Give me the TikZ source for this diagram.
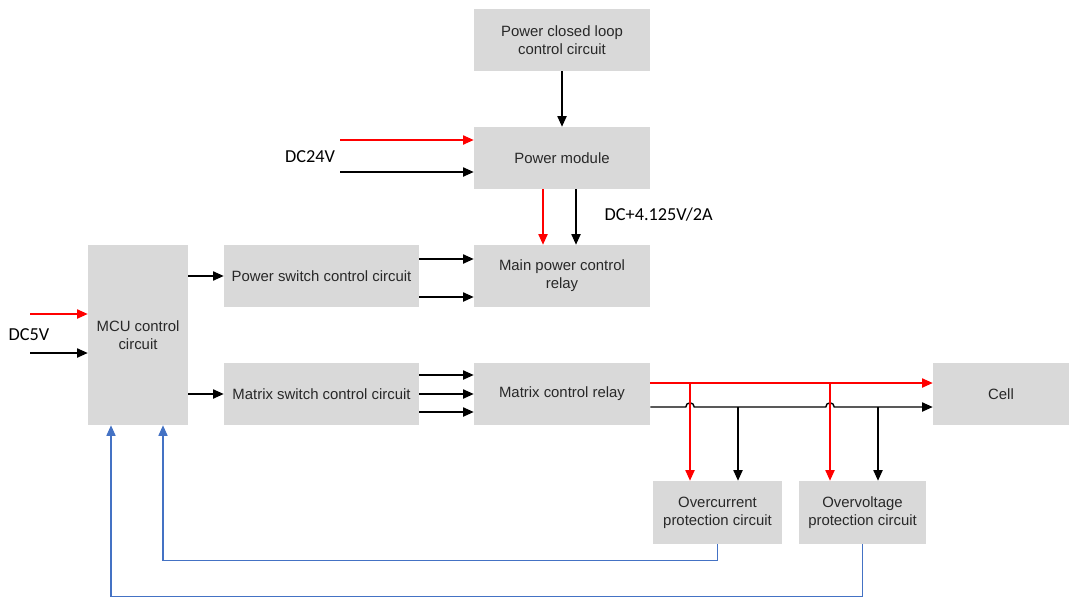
\documentclass[tikz,border=0pt]{standalone}
\usepackage{fontspec}
\setmainfont{Liberation Sans}
\newfontfamily\lblfont{Carlito}
\usetikzlibrary{arrows.meta, positioning, calc}
\definecolor{cBox}{RGB}{217, 217, 217}
\definecolor{cRed}{RGB}{255, 0, 0}
\definecolor{cBlue}{RGB}{68, 114, 196}
\definecolor{tDark}{RGB}{40, 40, 40}

\begin{document}
\begin{tikzpicture}[
    x=0.025cm, y=-0.025cm,
    font=\fontsize{10.6}{13}\selectfont,
    >={Triangle[length=7.5pt, width=6.5pt]},
    block/.style={
        fill=cBox,
        minimum width=#1,
        minimum height=1.55cm,
        align=center,
        text=tDark,
        inner sep=2pt
    },
    lbl/.style={font=\lblfont\fontsize{13}{15}\selectfont, inner sep=1pt},
    arrow/.style={->, line width=1pt, color=black},
    arrowRed/.style={->, line width=1pt, color=cRed},
    arrowBlue/.style={->, line width=0.9pt, color=cBlue}
]

\useasboundingbox (0,0) rectangle (1070,598);

% Power chain
\node[block=4.4cm] (pw_loop) at (562,40) {Power closed loop\\control circuit};
\node[block=4.4cm] (pw_mod) at (562,158) {Power module};
\node[block=4.4cm] (main_relay) at (562,276) {Main power control\\relay};

% Control side
\node[block=2.5cm, minimum height=4.5cm] (mcu) at (138,335) {MCU control\\circuit};
\node[block=4.875cm] (pw_switch) at (321.5,276) {Power switch control circuit};
\node[block=4.875cm] (mx_switch) at (321.5,394) {Matrix switch control circuit};
\node[block=4.4cm] (mx_relay) at (562,394) {Matrix control relay};
\node[block=3.4cm] (cell) at (1001,394) {Cell};

% Protection
\node[block=3.225cm, minimum height=1.575cm] (ocp) at (717.5,512.5) {Overcurrent\\protection circuit};
\node[block=3.175cm, minimum height=1.575cm] (ovp) at (862.5,512.5) {Overvoltage\\protection circuit};

% Supply labels
\node[lbl] (dc24) at (310,157) {DC24V};
\node[lbl] (dc5) at (29,335) {DC5V};
\node[lbl, anchor=west] (i_out) at (603,215) {DC+4.125V/2A};

\coordinate (dc24_r) at (340,140);
\coordinate (dc24_b) at (340,172);
\coordinate (dc5_r) at (30,314);
\coordinate (dc5_b) at (30,353);

\draw[arrow] (pw_loop) -- (pw_mod);
\draw[arrowRed] (dc24_r) -- (dc24_r -| pw_mod.west);
\draw[arrow] (dc24_b) -- (dc24_b -| pw_mod.west);
\draw[arrowRed] ($(pw_mod.south)+(-19,0)$) -- ($(main_relay.north)+(-19,0)$);
\draw[arrow] ($(pw_mod.south)+(14,0)$) -- ($(main_relay.north)+(14,0)$);

\draw[arrowRed] (dc5_r) -- (dc5_r -| mcu.west);
\draw[arrow] (dc5_b) -- (dc5_b -| mcu.west);

\draw[arrow] (mcu.east |- pw_switch) -- (pw_switch);
\draw[arrow] ($(pw_switch.east)+(0,-17)$) -- ($(main_relay.west)+(0,-17)$);
\draw[arrow] ($(pw_switch.east)+(0,21)$) -- ($(main_relay.west)+(0,21)$);

\draw[arrow] (mcu.east |- mx_switch) -- (mx_switch);
\draw[arrow] ($(mx_switch.east)+(0,-19)$) -- ($(mx_relay.west)+(0,-19)$);
\draw[arrow] (mx_switch) -- (mx_relay);
\draw[arrow] ($(mx_switch.east)+(0,18)$) -- ($(mx_relay.west)+(0,18)$);

% Relay to cell, with line hops
\coordinate (hop_a) at (690,407);
\coordinate (hop_b) at (830,407);
\draw[arrowRed] ($(mx_relay.east)+(0,-11)$) -- ($(cell.west)+(0,-11)$);
\draw[arrow] ($(mx_relay.east)+(0,13)$) -- ([xshift=-3pt]hop_a)
    arc[start angle=180, end angle=0, radius=3pt] -- ([xshift=-3pt]hop_b)
    arc[start angle=180, end angle=0, radius=3pt] -- ($(cell.west)+(0,13)$);

% Taps down to protection
\coordinate (oc_tap_r) at (690,383);
\coordinate (oc_tap_b) at (738,407);
\coordinate (ov_tap_r) at (830,383);
\coordinate (ov_tap_b) at (878,407);
\draw[arrowRed] (oc_tap_r) -- (oc_tap_r |- ocp.north);
\draw[arrow] (oc_tap_b) -- (oc_tap_b |- ocp.north);
\draw[arrowRed] (ov_tap_r) -- (ov_tap_r |- ovp.north);
\draw[arrow] (ov_tap_b) -- (ov_tap_b |- ovp.north);

% Feedback to MCU
\draw[arrowBlue] (ocp.south) -- ++(0,16) -| ($(mcu.south)+(25,0)$);
\draw[arrowBlue] (ovp.south) -- ++(0,52) -| ($(mcu.south)+(-27,0)$);

\end{tikzpicture}
\end{document}
